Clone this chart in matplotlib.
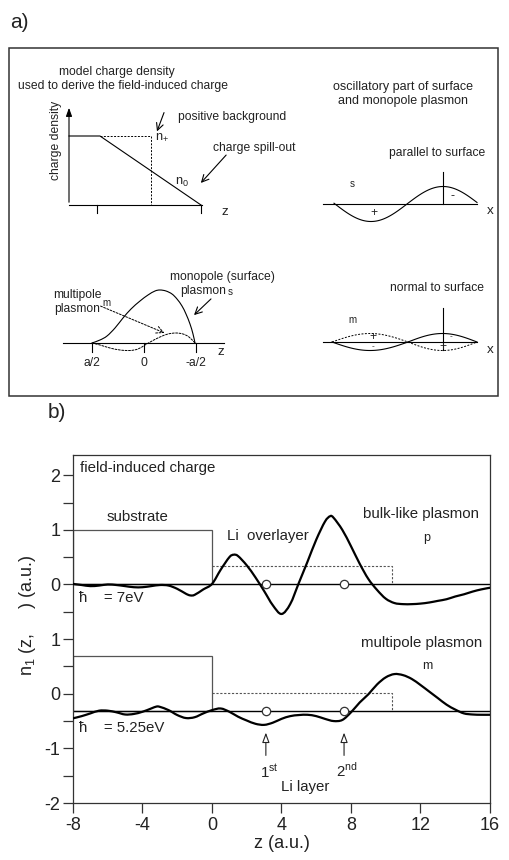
import numpy as np
import matplotlib
matplotlib.use('Agg')
import matplotlib.pyplot as plt
from matplotlib.patches import Rectangle, PathPatch
from matplotlib.path import Path

plt.rcParams['font.family'] = ['Liberation Sans', 'DejaVu Sans']
plt.rcParams['mathtext.fontset'] = 'custom'
plt.rcParams['mathtext.rm'] = 'Liberation Sans'

# ---------------- panel b data ----------------
z_upper = [-8, -7.5, -7, -6.5, -6, -5.5, -5, -4.5, -4, -3.5, -3, -2.5, -2, -1.5, -1.25, -1, -0.5,
           0, 0.5, 1, 1.25, 1.5, 2, 2.5, 3, 3.5, 4, 4.5, 5, 5.5, 6, 6.5, 6.8, 7, 7.5, 8, 8.5, 9,
           9.5, 10, 10.5, 11, 11.5, 12, 12.5, 13, 13.5, 14, 14.5, 15, 15.5, 16]
n1_7eV = [0.01, -0.01, -0.03, -0.02, 0.0, -0.01, -0.03, -0.05, -0.05, -0.03, -0.01, -0.02, -0.08,
          -0.17, -0.2, -0.19, -0.09, 0.01, 0.27, 0.5, 0.545, 0.52, 0.35, 0.13, -0.12, -0.38, -0.54,
          -0.36, 0.03, 0.42, 0.82, 1.15, 1.25, 1.22, 1.0, 0.7, 0.38, 0.1, -0.1, -0.26, -0.34, -0.36,
          -0.36, -0.35, -0.33, -0.3, -0.27, -0.22, -0.18, -0.13, -0.09, -0.06]

z_lower = [-8, -7.5, -7, -6.5, -6, -5.5, -5, -4.5, -4, -3.5, -3.2, -3, -2.5, -2, -1.5, -1, -0.5,
           0, 0.5, 1, 1.5, 2, 2.5, 3, 3.5, 4, 4.5, 5, 5.5, 6, 6.5, 7, 7.5, 8, 8.5, 9, 9.5, 10,
           10.5, 11, 11.5, 12, 12.5, 13, 13.5, 14, 14.5, 15, 15.5, 16]
n1_525eV = [-0.45, -0.41, -0.36, -0.31, -0.31, -0.34, -0.38, -0.37, -0.33, -0.27, -0.235, -0.24,
            -0.3, -0.39, -0.445, -0.43, -0.36, -0.3, -0.27, -0.33, -0.42, -0.49, -0.55, -0.57,
            -0.53, -0.46, -0.41, -0.39, -0.385, -0.41, -0.46, -0.5, -0.48, -0.34, -0.16, -0.01,
            0.17, 0.3, 0.36, 0.34, 0.27, 0.16, 0.04, -0.08, -0.2, -0.29, -0.36, -0.38, -0.385, -0.385]

x_ticks = [-8, -4, 0, 4, 8, 12, 16]
y_tick_pos = [-2, -1.5, -1, -0.5, 0, 0.5, 1, 1.5, 2, 2.5, 3, 3.5, 4]
y_tick_labels = ['-2', '', '-1', '', '0', '', '1', '', '0', '', '1', '', '2']

upper_offset = 2.0          # vertical shift of the 7 eV curve
lower_baseline = -0.31      # zero line of the 5.25 eV curve
substrate_height = 1.0
overlayer_height = 0.33
overlayer_end = 10.35
layer_z = [3.1, 7.6]

# ---------------- panel a schematic shapes (pixel coords) ----------------
cd_solid_x = [69, 100, 201]
cd_solid_y = [136, 136, 205]
cd_dash_x = [100, 151, 151]
cd_dash_y = [136, 136, 205]

mono_x = [92, 100, 107, 115, 123, 131, 140, 148, 155, 160, 166, 172, 177, 182, 186, 190, 193, 195]
mono_y = [343, 340, 336, 328, 318, 309, 301, 295, 291, 290, 291, 294, 299, 306, 314, 324, 334, 343]
multi_x = [92, 100, 110, 120, 130, 138, 145, 152, 160, 168, 176, 183, 189, 195]
multi_y = [343, 345, 348, 350, 350.5, 349, 345, 341, 337, 334, 333, 334, 337, 343]


def smooth_curve(axis, x, y, **kw):
    """Draw a smooth (Catmull-Rom / Bezier) curve through the given points."""
    P = np.column_stack([x, y]).astype(float)
    n = len(P)
    verts = [P[0]]
    codes = [Path.MOVETO]
    for i in range(n - 1):
        p0 = P[max(i - 1, 0)]
        p1 = P[i]
        p2 = P[i + 1]
        p3 = P[min(i + 2, n - 1)]
        verts += [p1 + (p2 - p0) / 6.0, p2 - (p3 - p1) / 6.0, p2]
        codes += [Path.CURVE4] * 3
    axis.add_patch(PathPatch(Path(verts, codes), fill=False, capstyle='round', **kw))


TXT = '#222222'
fig = plt.figure(figsize=(5.1, 8.6), dpi=100)

# overlay axes in pixel coordinates for panel a
A = fig.add_axes([0, 0, 1, 1])
A.set_xlim(0, 510)
A.set_ylim(860, 0)
A.axis('off')

A.add_patch(Rectangle((9, 48), 489, 348, fill=False, ec='#333333', lw=1.1))
A.text(10, 22, 'a)', fontsize=15, ha='left', va='center', color=TXT)
A.text(48, 412, 'b)', fontsize=15, ha='left', va='center', color=TXT)

fs = 8.7
lw_s = 0.8
dash = (0, (2, 1.5))
# charge density diagram
A.annotate('', xy=(69, 105), xytext=(69, 205),
           arrowprops=dict(arrowstyle='-|>,head_length=0.5,head_width=0.18', lw=lw_s, color='k'))
A.plot([69, 202], [205, 205], color='k', lw=lw_s)
A.plot([97, 97], [205, 213], color='k', lw=lw_s)
A.plot([201, 201], [205, 213], color='k', lw=lw_s)
A.plot(cd_solid_x, cd_solid_y, color='k', lw=lw_s)
A.plot(cd_dash_x, cd_dash_y, color='k', lw=0.7, ls=dash)
A.text(117, 72, 'model charge density', fontsize=fs, ha='center', va='center', color=TXT)
A.text(123, 86, 'used to derive the field-induced charge', fontsize=fs, ha='center', va='center', color=TXT)
A.text(178, 117, 'positive background', fontsize=fs, ha='left', va='center', color=TXT)
A.text(213, 148, 'charge spill-out', fontsize=fs, ha='left', va='center', color=TXT)
A.text(155, 137, r'n$_\mathregular{+}$', fontsize=fs + 0.5, ha='left', va='center', color=TXT)
A.text(175, 182, r'n$_\mathregular{0}$', fontsize=fs + 0.5, ha='left', va='center', color=TXT)
A.text(56, 140, 'charge density', fontsize=fs, rotation=90, ha='center', va='center', color=TXT)
A.text(225, 212, 'z', fontsize=fs + 1, ha='center', va='center', color=TXT)
A.annotate('', xy=(156, 134), xytext=(165, 110),
           arrowprops=dict(arrowstyle='->,head_length=0.5,head_width=0.25', lw=lw_s, color='k'))
A.annotate('', xy=(199, 185), xytext=(228, 153),
           arrowprops=dict(arrowstyle='->,head_length=0.5,head_width=0.25', lw=lw_s, color='k'))

# parallel to surface
A.text(403, 87, 'oscillatory part of surface', fontsize=fs + 0.3, ha='center', va='center', color=TXT)
A.text(403, 101, 'and monopole plasmon', fontsize=fs + 0.3, ha='center', va='center', color=TXT)
A.text(437, 153, 'parallel to surface', fontsize=fs, ha='center', va='center', color=TXT)
A.plot([323, 477], [204, 204], color='k', lw=lw_s)
A.plot([443, 443], [172, 204], color='k', lw=lw_s)
xs = np.linspace(334, 477, 120)
A.plot(xs, 204 - 17.5 * np.sin(2 * np.pi * (xs - 407) / 144), color='k', lw=lw_s)
A.text(352, 184, 's', fontsize=7, ha='center', va='center', color=TXT)
A.text(374, 213, '+', fontsize=fs, ha='center', va='center', color=TXT)
A.text(453, 196, '-', fontsize=fs, ha='center', va='center', color=TXT)
A.text(490, 211, 'x', fontsize=fs + 1, ha='center', va='center', color=TXT)

# normal to surface
A.text(437, 288, 'normal to surface', fontsize=fs, ha='center', va='center', color=TXT)
A.plot([323, 477], [342, 342], color='k', lw=lw_s)
A.plot([443, 443], [308, 350], color='k', lw=lw_s)
xl = np.linspace(332, 408, 60)
xr = np.linspace(408, 477, 60)
A.plot(xl, 342 + 8.5 * np.sin(np.pi * (xl - 332) / 76), color='k', lw=lw_s)
A.plot(xl, 342 - 8.5 * np.sin(np.pi * (xl - 332) / 76), color='k', lw=0.7, ls=dash)
A.plot(xr, 342 - 8.5 * np.sin(np.pi * (xr - 408) / 69), color='k', lw=lw_s)
A.plot(xr, 342 + 8.5 * np.sin(np.pi * (xr - 408) / 69), color='k', lw=0.7, ls=dash)
A.text(352, 320, 'm', fontsize=7, ha='center', va='center', color=TXT)
A.text(373, 337, '+', fontsize=fs, ha='center', va='center', color=TXT)
A.text(373, 347, '-', fontsize=6, ha='center', va='center', color=TXT)
A.text(451, 337, '-', fontsize=6, ha='center', va='center', color=TXT)
A.text(443, 347, '+', fontsize=fs, ha='center', va='center', color=TXT)
A.text(490, 350, 'x', fontsize=fs + 1, ha='center', va='center', color=TXT)

# monopole / multipole profile
A.plot([63, 224], [343, 343], color='k', lw=lw_s)
for tx in (92, 144, 196):
    A.plot([tx, tx], [343, 352], color='k', lw=lw_s)
smooth_curve(A, mono_x, mono_y, ec='k', lw=lw_s)
smooth_curve(A, multi_x, multi_y, ec='k', lw=0.7, ls=dash)
A.annotate('', xy=(167, 334), xytext=(98, 305),
           arrowprops=dict(arrowstyle='->,head_length=0.5,head_width=0.25', lw=0.7, color='k', ls=dash))
A.annotate('', xy=(192, 317), xytext=(213, 297),
           arrowprops=dict(arrowstyle='->,head_length=0.5,head_width=0.25', lw=lw_s, color='k'))
A.text(77, 295, 'multipole', fontsize=fs, ha='center', va='center', color=TXT)
A.text(77, 309, 'plasmon', fontsize=fs, ha='center', va='center', color=TXT)
A.text(106, 303, 'm', fontsize=7, ha='center', va='center', color=TXT)
A.text(170, 277, 'monopole (surface)', fontsize=fs, ha='left', va='center', color=TXT)
A.text(180, 291, 'plasmon', fontsize=fs, ha='left', va='center', color=TXT)
A.text(230, 292, 's', fontsize=7, ha='center', va='center', color=TXT)
A.text(92, 363, 'a/2', fontsize=fs, ha='center', va='center', color=TXT)
A.text(144, 363, '0', fontsize=fs, ha='center', va='center', color=TXT)
A.text(196, 363, '-a/2', fontsize=fs, ha='center', va='center', color=TXT)
A.text(221, 352, 'z', fontsize=fs + 1, ha='center', va='center', color=TXT)

# ---------------- panel b ----------------
ax = fig.add_axes([73 / 510, 1 - 803 / 860, 417 / 510, 348 / 860])
ax.set_xlim(-8, 16)
ax.set_ylim(-2, 4.37)
for s in ax.spines.values():
    s.set_color('#333333')
    s.set_linewidth(0.9)

gray = '#555555'
# upper (7 eV)
ax.axhline(upper_offset, color='k', lw=1.0)
ax.add_patch(Rectangle((-8, upper_offset), 8, substrate_height, fill=False, ec=gray, lw=0.9))
ax.plot([0, overlayer_end, overlayer_end], [upper_offset + overlayer_height] * 2 + [upper_offset],
        color=gray, lw=0.8, ls=dash)
smooth_curve(ax, z_upper, np.array(n1_7eV) + upper_offset, ec='k', lw=1.6, zorder=3)
ax.plot(layer_z, [upper_offset] * 2, 'o', mfc='white', mec='#333333', ms=6, mew=0.9, zorder=4)

# lower (5.25 eV)
ax.axhline(lower_baseline, color='k', lw=1.0)
ax.add_patch(Rectangle((-8, lower_baseline), 8, substrate_height, fill=False, ec=gray, lw=0.9))
ax.plot([0, overlayer_end, overlayer_end], [lower_baseline + overlayer_height] * 2 + [lower_baseline],
        color=gray, lw=0.8, ls=dash)
smooth_curve(ax, z_lower, n1_525eV, ec='k', lw=1.6, zorder=3)
ax.plot(layer_z, [lower_baseline] * 2, 'o', mfc='white', mec='#333333', ms=6, mew=0.9, zorder=4)

for zl in layer_z:
    ax.annotate('', xy=(zl, -0.66), xytext=(zl, -1.18),
                arrowprops=dict(arrowstyle='-|>,head_length=0.6,head_width=0.22', fc='white', ec='#222222', lw=0.8))

bfs = 10.8
ax.text(-7.6, 4.13, 'field-induced charge', fontsize=bfs, ha='left', va='center', color=TXT)
ax.text(-6.04, 3.23, 'substrate', fontsize=bfs, ha='left', va='center', color=TXT)
ax.text(0.86, 2.88, 'Li  overlayer', fontsize=bfs, ha='left', va='center', color=TXT)
ax.text(8.69, 3.29, 'bulk-like plasmon', fontsize=bfs, ha='left', va='center', color=TXT)
ax.text(12.37, 2.85, 'p', fontsize=9, ha='center', va='center', color=TXT)
ax.text(-7.65, 1.75, '\u0127    = 7eV', fontsize=bfs, ha='left', va='center', color=TXT)
ax.text(8.58, 0.93, 'multipole plasmon', fontsize=bfs, ha='left', va='center', color=TXT)
ax.text(12.37, 0.51, 'm', fontsize=9, ha='center', va='center', color=TXT)
ax.text(-7.65, -0.63, '\u0127    = 5.25eV', fontsize=bfs, ha='left', va='center', color=TXT)
ax.text(3.28, -1.43, r'1$^\mathregular{st}$', fontsize=bfs, ha='center', va='center', color=TXT)
ax.text(7.77, -1.40, r'2$^\mathregular{nd}$', fontsize=bfs, ha='center', va='center', color=TXT)
ax.text(5.35, -1.71, 'Li layer', fontsize=bfs, ha='center', va='center', color=TXT)

ax.set_xticks(x_ticks)
ax.set_xticklabels([str(v) for v in x_ticks])
ax.set_yticks(y_tick_pos)
ax.set_yticklabels(y_tick_labels)
ax.tick_params(axis='both', direction='out', length=7, width=0.9, color='#333333',
               labelsize=13, labelcolor=TXT)
ax.tick_params(axis='x', pad=3)
ax.tick_params(axis='y', pad=2)
ax.set_xlabel('z (a.u.)', fontsize=13, color=TXT, labelpad=1)
fig.text(28 / 510, 1 - 615 / 860, r'n$_\mathregular{1}$ (z,     ) (a.u.)', fontsize=13,
         rotation=90, ha='center', va='center', color=TXT)

fig.savefig('out.png', dpi=100)
